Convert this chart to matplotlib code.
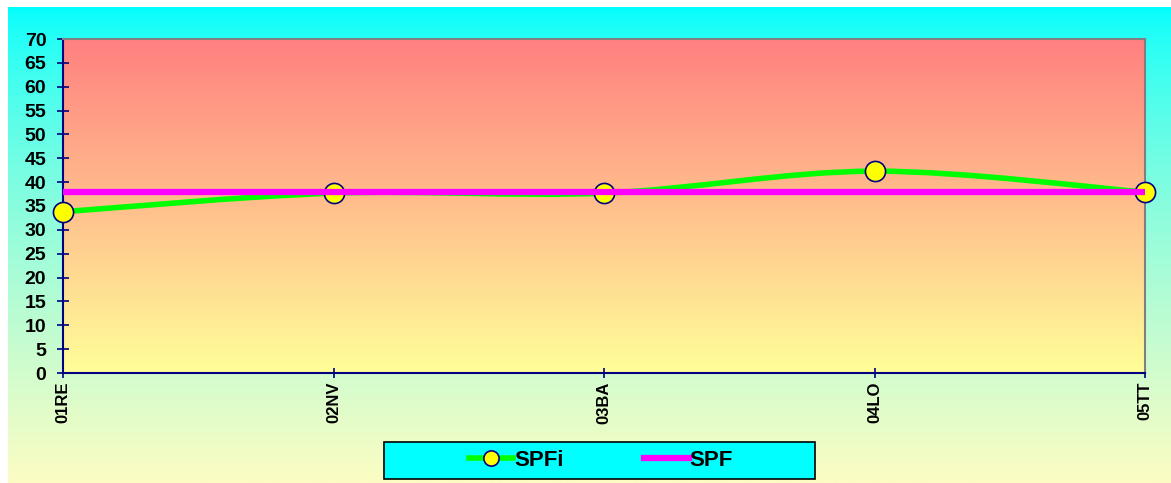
import matplotlib
matplotlib.use("Agg")
import matplotlib.pyplot as plt
import numpy as np
from matplotlib.path import Path
from matplotlib.patches import PathPatch, Rectangle
from matplotlib.lines import Line2D

#==[0] Data
categories = ["01RE", "02NV", "03BA", "04LO", "05TT"]
spfi = [33.8, 37.7, 37.7, 42.3, 37.9]
spf = [37.9, 37.9, 37.9, 37.9, 37.9]
yticks = list(range(0, 75, 5))

plt.rcParams['font.family'] = ['Liberation Sans', 'DejaVu Sans']
plt.rcParams['font.weight'] = 'bold'

navy = "#000080"

#==[1] Figure with gradient background
fig = plt.figure(figsize=(11.71, 4.83), dpi=100, facecolor="white")
bg = fig.add_axes([8 / 1171, 0, 1 - 8 / 1171, 1 - 7 / 483], zorder=-10)
grad = np.linspace(0, 1, 256)[:, None]
top_c = np.array([0, 255, 255]) / 255
bot_c = np.array([252, 252, 195]) / 255
bg.imshow(top_c + (grad ** 0.7)[..., None] * (bot_c - top_c), aspect="auto",
          extent=[0, 1, 0, 1])
bg.set_axis_off()

#==[2] Plot area
ax = fig.add_axes([63 / 1171, 1 - 373 / 483, (1145 - 63) / 1171, (373 - 39) / 483])
x = np.arange(len(categories))
ptop = np.array([255, 128, 128]) / 255
pbot = np.array([255, 255, 153]) / 255
ax.imshow(ptop + grad[..., None] * (pbot - ptop), aspect="auto",
          extent=[0, len(categories) - 1, 0, 70], zorder=0)

# smoothed SPFi line (Catmull-Rom style Bezier through the points)
pts = np.column_stack([x, spfi]).astype(float)
ext = np.vstack([pts[0], pts, pts[-1]])
verts = [tuple(pts[0])]
codes = [Path.MOVETO]
for i in range(len(pts) - 1):
    p0, p1, p2, p3 = ext[i], ext[i + 1], ext[i + 2], ext[i + 3]
    verts += [tuple(p1 + (p2 - p0) / 6), tuple(p2 - (p3 - p1) / 6), tuple(p2)]
    codes += [Path.CURVE4] * 3
ax.add_patch(PathPatch(Path(verts, codes), facecolor="none",
                       edgecolor="#00FF00", lw=4, zorder=3, capstyle="round"))
ax.plot(x, spfi, ls="none", marker="o", ms=14.5, mfc="#FFFF00",
        mec=navy, mew=1.2, zorder=4, clip_on=False)
ax.plot(x, spf, color="#FF00FF", lw=4.5, zorder=5, solid_capstyle="butt")

ax.set_xlim(0, len(categories) - 1)
ax.set_ylim(0, 70)
ax.set_yticks(yticks)
ax.set_xticks(x)
ax.set_xticklabels(categories, rotation=90, fontsize=12, fontweight="bold")
ax.set_yticklabels([str(v) for v in yticks], fontsize=14, fontweight="bold")
ax.tick_params(axis="y", direction="inout", length=8, width=1.2, color=navy, pad=8)
ax.tick_params(axis="x", direction="inout", length=6.5, width=1.2, color=navy, pad=3)
for side in ["left", "bottom"]:
    ax.spines[side].set_color(navy)
    ax.spines[side].set_linewidth(1.5)
for side in ["top", "right"]:
    ax.spines[side].set_color("#808080")
    ax.spines[side].set_linewidth(1.5)

#==[3] Legend in a cyan box
fig.patches.append(Rectangle((384 / 1171, 1 - 479 / 483), (815 - 384) / 1171,
                             (479 - 442) / 483, transform=fig.transFigure,
                             facecolor="#00FFFF", edgecolor="black", lw=1.2))
h1 = Line2D([], [], color="#00FF00", lw=4, marker="o", ms=11,
            mfc="#FFFF00", mec=navy, mew=1.2)
h2 = Line2D([], [], color="#FF00FF", lw=4.5)
fig.legend([h1, h2], ["SPFi", "SPF"], loc="center",
           bbox_to_anchor=(601 / 1171, 1 - 460.5 / 483), ncol=2, frameon=False,
           prop={"size": 16, "weight": "bold"}, handlelength=2.0,
           handletextpad=0.05, columnspacing=3.6)

fig.savefig("out.png", dpi=100)
